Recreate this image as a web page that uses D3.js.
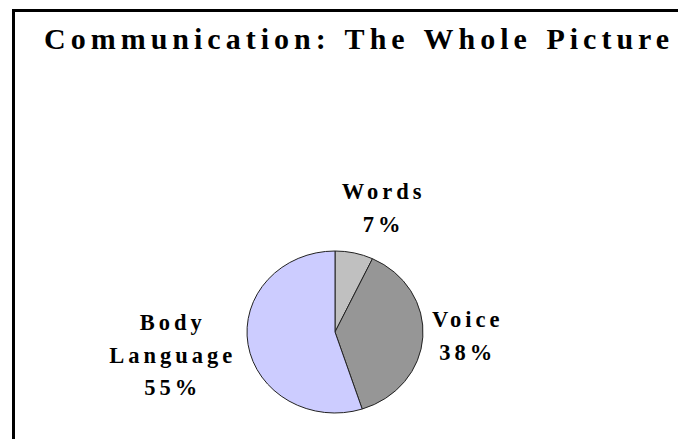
<!DOCTYPE html>
<meta charset="utf-8">
<style>
body { margin: 0; background: #fff; }
.title { font-family: "Liberation Serif", "Times New Roman", serif; font-weight: bold; font-size: 30px; letter-spacing: 5px; word-spacing: 2px; }
.lbl { font-family: "Liberation Serif", "Times New Roman", serif; font-weight: bold; font-size: 22.5px; letter-spacing: 4px; }
.slice { stroke: #222; stroke-width: 1px; }
</style>
<body>
<svg width="678" height="439"></svg>
</body>
<script src="https://d3js.org/d3.v7.min.js"></script>
<script>
var categories = ["Words", "Voice", "Body Language"];
var values = [7, 38, 55];
var labelLines = [["Words", "7%"], ["Voice", "38%"], ["Body", "Language", "55%"]];
var colors = ["#c0c0c0", "#969696", "#ccccff"];

var svg = d3.select("svg");

// frame: only top and left edges show
svg.append("path")
    .attr("d", "M13.5,700 V10.5 H700")
    .attr("fill", "none")
    .attr("stroke", "#000")
    .attr("stroke-width", 3);

svg.append("text")
    .attr("class", "title")
    .attr("x", 44)
    .attr("y", 49)
    .text("Communication: The Whole Picture");

var cx = 335, cy = 332, r = 88, squash = 81 / 88;

var pie = d3.pie().sort(null).value(function(d) { return d; });
var arcs = pie(values);

var arc = d3.arc().innerRadius(0).outerRadius(r);
var labelArc = d3.arc().innerRadius(140).outerRadius(140);

var pieG = svg.append("g")
    .attr("transform", "translate(" + cx + "," + cy + ") scale(1," + squash + ")");

pieG.selectAll("path")
    .data(arcs)
    .enter().append("path")
    .attr("class", "slice")
    .attr("vector-effect", "non-scaling-stroke")
    .attr("fill", function(d, i) { return colors[i]; })
    .attr("d", arc);

// small layout nudges for the labels
var nudge = [[16, 2], [-9, -4], [-26, 3]];
var lh = 32.5;

arcs.forEach(function(d, i) {
    var c = labelArc.centroid(d);
    var x = cx + c[0] + nudge[i][0];
    var y = cy + c[1] * squash + nudge[i][1];
    var lines = labelLines[i];
    var y0 = y - (lines.length - 1) * lh / 2 + 7.5;
    var t = svg.append("text")
        .attr("class", "lbl")
        .attr("text-anchor", "middle");
    lines.forEach(function(s, j) {
        t.append("tspan")
            .attr("x", x + 2)
            .attr("y", y0 + j * lh)
            .text(s);
    });
});
</script>
